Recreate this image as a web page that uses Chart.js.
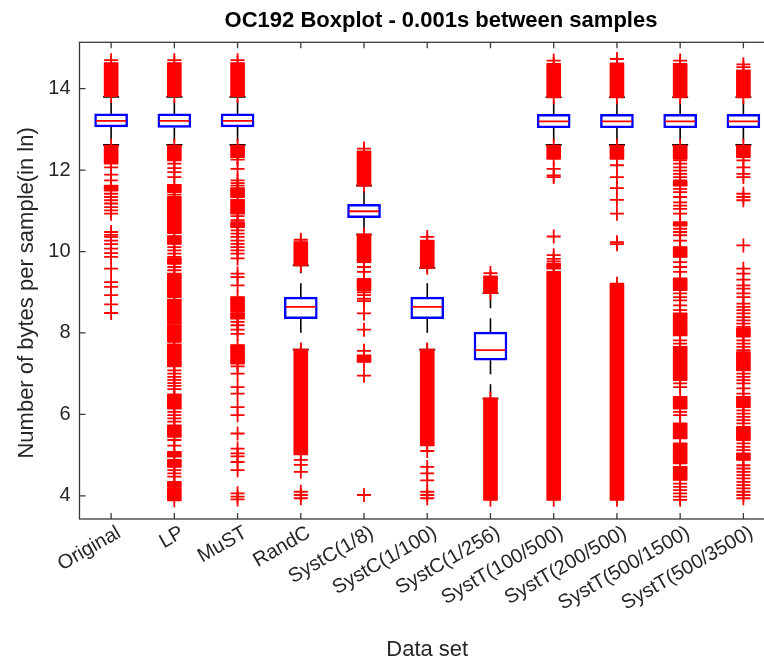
<!DOCTYPE html>
<html>
<head>
    <title>OC192 Boxplot</title>
    <meta charset="UTF-8">
    <style>
        html, body {
            margin: 0;
            padding: 0;
            background: #ffffff;
            overflow: hidden;
        }
        .chart-container {
            width: 764px;
            height: 664px;
            overflow: hidden;
        }
    </style>
    <script src="https://cdn.jsdelivr.net/npm/chart.js"></script>
</head>
<body>

<div class="chart-container">
    <canvas id="boxChart" width="800" height="664"></canvas>
</div>

<script>
    // categories and box statistics (ln of bytes per sample)
    const categories = ['Original', 'LP', 'MuST', 'RandC', 'SystC(1/8)', 'SystC(1/100)', 'SystC(1/256)',
        'SystT(100/500)', 'SystT(200/500)', 'SystT(500/1500)', 'SystT(500/3500)'];
    const q1 = [13.06, 13.05, 13.06, 8.35, 10.83, 8.35, 7.33, 13.04, 13.04, 13.04, 13.04];
    const median = [13.21, 13.21, 13.21, 8.64, 10.99, 8.64, 7.58, 13.20, 13.20, 13.20, 13.20];
    const q3 = [13.38, 13.38, 13.38, 8.88, 11.16, 8.88, 8.02, 13.37, 13.37, 13.37, 13.37];
    const whiskerLow = [12.62, 12.62, 12.62, 7.59, 10.42, 7.59, 6.39, 12.62, 12.62, 12.62, 12.62];
    const whiskerHigh = [13.80, 13.80, 13.80, 9.66, 11.62, 9.60, 8.98, 13.79, 13.79, 13.79, 13.79];

    // ranges where outlier markers overlap into a solid column, per category
    const outlierBands = [
        [[13.82, 14.63], [12.16, 12.60], [11.50, 11.62]],
        [[13.82, 14.63], [12.24, 12.60], [11.46, 11.64], [10.70, 11.34], [10.45, 10.66], [10.19, 10.38],
            [9.70, 9.83], [8.88, 9.46], [8.23, 8.82], [7.78, 8.19], [7.18, 7.72], [6.14, 6.49],
            [5.45, 5.73], [4.96, 5.08], [4.71, 4.88], [4.22, 4.34], [3.89, 4.18]],
        [[13.82, 14.63], [12.32, 12.60], [11.34, 11.56], [10.93, 11.27], [10.60, 10.72], [8.52, 8.88],
            [8.35, 8.48], [7.25, 7.70]],
        [[9.66, 10.23], [5.02, 7.59]],
        [[11.62, 12.46], [9.74, 10.42], [9.05, 9.33], [7.29, 7.45]],
        [[9.60, 10.27], [5.24, 7.59]],
        [[8.98, 9.39], [3.90, 6.39]],
        [[13.79, 14.61], [12.28, 12.60], [9.58, 9.70], [3.90, 9.50]],
        [[13.79, 14.62], [12.28, 12.60], [3.90, 9.21]],
        [[13.79, 14.61], [12.28, 12.60], [11.62, 11.71], [10.64, 10.72], [9.87, 10.11], [9.05, 9.34],
            [7.94, 8.48], [6.84, 7.66], [6.14, 6.43], [5.41, 5.78], [4.80, 5.29], [4.39, 4.71]],
        [[13.79, 14.45], [12.32, 12.60], [7.91, 8.11], [7.08, 7.53], [6.18, 6.43], [5.37, 5.69], [4.88, 5.04]]
    ];

    // single outlier markers, per category
    const outlierPoints = [
        [14.70, 12.07, 11.89, 11.75, 11.42, 11.34, 11.26, 11.18, 11.09, 11.01, 10.93, 10.48, 10.41, 10.36,
            10.27, 10.18, 10.07, 9.96, 9.87, 9.58, 9.25, 9.13, 8.93, 8.70, 8.49],
        [14.70, 12.16, 12.05, 11.95, 11.83, 11.40, 10.11, 10.03, 9.95, 9.87, 9.62, 9.54, 7.08, 7.00, 6.92,
            6.85, 6.77, 6.70, 6.62, 6.06, 5.98, 5.90, 5.82, 5.37, 5.23, 4.63, 4.55, 4.47],
        [14.70, 12.26, 12.03, 11.75, 11.68, 11.62, 10.87, 10.77, 10.52, 10.44, 10.36, 10.27, 10.19, 10.11,
            10.03, 9.95, 9.83, 9.46, 9.37, 9.17, 8.27, 8.19, 8.08, 7.98, 7.18, 7.00, 6.67, 6.51, 6.18, 5.98,
            5.53, 5.16, 5.04, 4.97, 4.83, 4.63, 4.06, 3.98, 3.91],
        [10.29, 4.88, 4.76, 4.59, 4.10, 4.02, 3.94],
        [12.53, 9.62, 9.50, 9.00, 8.93, 8.84, 8.78, 8.48, 8.08, 7.56, 6.95, 4.02],
        [10.36, 5.10, 4.71, 4.55, 4.38, 4.10, 4.02, 3.94],
        [9.47],
        [14.69, 12.03, 11.87, 11.83, 10.37, 9.91, 9.82, 9.76],
        [14.73, 12.12, 11.83, 11.56, 11.27, 10.93, 10.23, 10.18],
        [14.69, 12.24, 12.16, 12.07, 11.99, 11.91, 11.83, 11.75, 11.54, 11.46, 11.34, 11.21, 11.13, 11.05,
            10.93, 10.56, 10.48, 10.40, 10.27, 9.74, 9.62, 9.50, 9.13, 8.97, 8.88, 8.80, 8.68, 8.56, 7.82,
            7.74, 6.76, 6.67, 6.06, 5.98, 4.30, 4.22, 4.14, 4.06, 3.98, 3.90],
        [14.60, 14.53, 12.24, 12.07, 11.91, 11.83, 11.42, 11.34, 11.26, 10.15, 9.58, 9.46, 9.31, 9.17, 9.09,
            8.97, 8.88, 8.72, 8.64, 8.56, 8.48, 8.39, 8.31, 8.23, 8.15, 7.82, 7.74, 7.66, 7.58, 7.00, 6.92,
            6.84, 6.76, 6.64, 6.51, 6.10, 6.02, 5.94, 5.86, 5.78, 5.29, 5.20, 5.12, 4.75, 4.67, 4.59, 4.51,
            4.43, 4.34, 4.26, 4.18, 4.10, 4.02, 3.94]
    ];

    const chartTitle = 'OC192 Boxplot - 0.001s between samples';
    const xTitle = 'Data set';
    const yTitle = 'Number of bytes per sample(in ln)';

    const textColor = '#262626';
    const axisColor = '#3a3a3a';
    const fontFamily = "'Liberation Sans', Arial, Helvetica, sans-serif";

    // build library data from the arrays above
    const whiskerData = [];
    const capData = [];
    const medianData = [];
    const bandData = [];
    const crossData = [];
    categories.forEach((c, i) => {
        whiskerData.push({x: c, y: q3[i]}, {x: c, y: whiskerHigh[i]}, {x: c, y: null});
        whiskerData.push({x: c, y: q1[i]}, {x: c, y: whiskerLow[i]}, {x: c, y: null});
        capData.push({x: c, y: whiskerHigh[i]}, {x: c, y: whiskerLow[i]});
        medianData.push({x: c, y: median[i]});
        outlierBands[i].forEach(b => {
            bandData.push({x: c, y: [b[0], b[1]]});
            crossData.push({x: c, y: b[0]}, {x: c, y: b[1]});
        });
        outlierPoints[i].forEach(v => crossData.push({x: c, y: v}));
    });

    // MATLAB style: inward tick marks, a full box round the axes, title
    const matlabAxes = {
        id: 'matlabAxes',
        afterDraw(chart) {
            const {ctx, chartArea: a, scales: {x, y}} = chart;
            ctx.save();
            ctx.strokeStyle = axisColor;
            ctx.lineWidth = 1.3;
            ctx.beginPath();
            x.ticks.forEach((t, i) => {
                const px = x.getPixelForTick(i);
                ctx.moveTo(px, a.bottom);
                ctx.lineTo(px, a.bottom - 6);
                ctx.moveTo(px, a.top);
                ctx.lineTo(px, a.top + 6);
            });
            y.ticks.forEach(t => {
                const py = y.getPixelForValue(t.value);
                ctx.moveTo(a.left, py);
                ctx.lineTo(a.left + 6, py);
                ctx.moveTo(a.right, py);
                ctx.lineTo(a.right - 6, py);
            });
            ctx.stroke();
            ctx.strokeRect(a.left, a.top, a.right - a.left, a.bottom - a.top);

            ctx.fillStyle = '#000000';
            ctx.font = 'bold 22px ' + fontFamily;
            ctx.textAlign = 'center';
            ctx.textBaseline = 'middle';
            ctx.fillText(chartTitle, 441, 21);
            ctx.restore();
        }
    };

    const ctx = document.getElementById('boxChart').getContext('2d');

    new Chart(ctx, {
        type: 'bar',
        data: {
            labels: categories,
            datasets: [
                {
                    type: 'line',
                    label: 'whiskers',
                    data: whiskerData,
                    borderColor: '#000000',
                    borderWidth: 1.6,
                    borderDash: [14, 10],
                    pointRadius: 0,
                    spanGaps: false,
                    order: 6
                },
                {
                    type: 'line',
                    label: 'caps',
                    data: capData,
                    showLine: false,
                    pointStyle: 'line',
                    pointRadius: 8,
                    pointBorderColor: '#000000',
                    pointBorderWidth: 1.6,
                    order: 5
                },
                {
                    type: 'bar',
                    label: 'box',
                    data: categories.map((c, i) => ({x: c, y: [q1[i], q3[i]]})),
                    backgroundColor: 'rgba(255,255,255,0)',
                    borderColor: '#0000ff',
                    borderWidth: 1.8,
                    borderSkipped: false,
                    barThickness: 33,
                    grouped: false,
                    order: 3
                },
                {
                    type: 'line',
                    label: 'median',
                    data: medianData,
                    showLine: false,
                    pointStyle: 'line',
                    pointRadius: 15,
                    pointBorderColor: '#ff0000',
                    pointBorderWidth: 1.8,
                    order: 2
                },
                {
                    type: 'bar',
                    label: 'outlier bands',
                    data: bandData,
                    backgroundColor: '#ff0000',
                    borderWidth: 0,
                    barThickness: 14,
                    grouped: false,
                    order: 1
                },
                {
                    type: 'line',
                    label: 'outliers',
                    data: crossData,
                    showLine: false,
                    pointStyle: 'cross',
                    pointRadius: 7,
                    pointBorderColor: '#ff0000',
                    pointBorderWidth: 1.8,
                    order: 0
                }
            ]
        },
        options: {
            responsive: false,
            animation: false,
            events: [],
            layout: {
                padding: {top: 42.3, right: 25, bottom: 0, left: 0}
            },
            plugins: {
                legend: {display: false},
                tooltip: {enabled: false},
                title: {display: false}
            },
            scales: {
                x: {
                    type: 'category',
                    offset: true,
                    grid: {display: false, drawTicks: false},
                    border: {display: false},
                    ticks: {
                        autoSkip: false,
                        minRotation: 30,
                        maxRotation: 30,
                        padding: 2,
                        labelOffset: 8,
                        color: textColor,
                        font: {family: fontFamily, size: 20}
                    },
                    title: {
                        display: true,
                        text: xTitle,
                        color: textColor,
                        font: {family: fontFamily, size: 22},
                        padding: {top: 0, bottom: 1}
                    },
                    afterFit: function(scale) {
                        scale.height = 145;
                    }
                },
                y: {
                    type: 'linear',
                    min: 3.43,
                    max: 15.14,
                    grid: {display: false, drawTicks: false},
                    border: {display: false},
                    ticks: {
                        stepSize: 2,
                        includeBounds: false,
                        padding: 9,
                        color: textColor,
                        font: {family: fontFamily, size: 20}
                    },
                    title: {
                        display: true,
                        text: yTitle + '\u00a0\u00a0\u00a0\u00a0',
                        color: textColor,
                        font: {family: fontFamily, size: 22},
                        padding: {top: 14, bottom: 0}
                    },
                    afterFit: function(scale) {
                        scale.width = 79.5;
                    }
                }
            }
        },
        plugins: [matlabAxes]
    });
</script>

</body>
</html>
